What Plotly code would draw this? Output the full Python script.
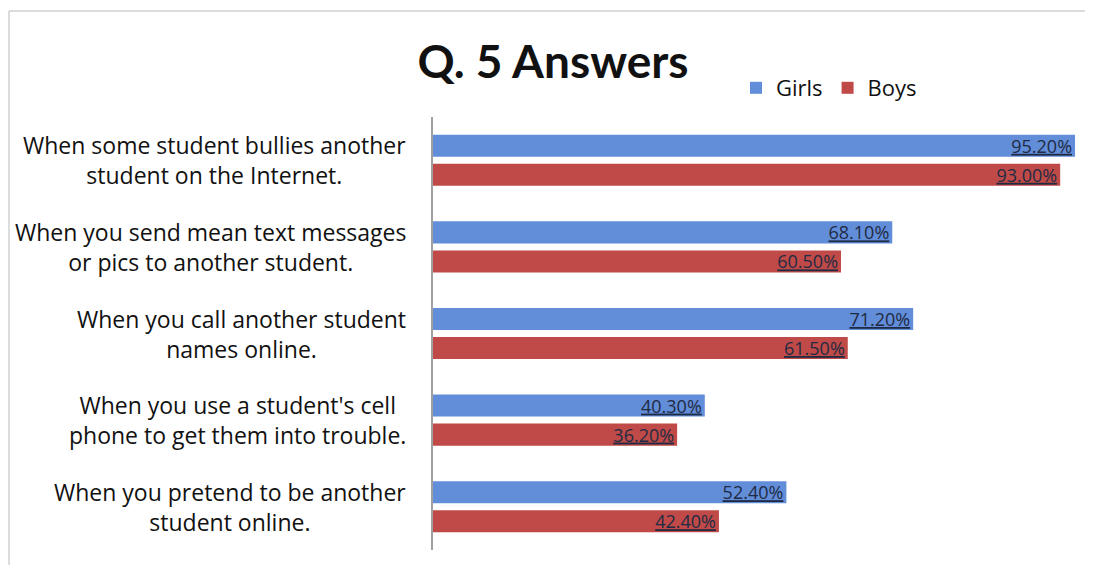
import plotly.graph_objects as go

categories = [
    "When some student bullies another<br>student on the Internet.",
    "When you send mean text messages<br>or pics to another student.",
    "When you call another student<br>names online.",
    "When you use a student's cell<br>phone to get them into trouble.",
    "When you pretend to be another<br>student online.",
]
girls = [95.2, 68.1, 71.2, 40.3, 52.4]
boys = [93.0, 60.5, 61.5, 36.2, 42.4]
series_names = ["Girls", "Boys"]
colors = ["#628ED9", "#C04A47"]

# page body has an 8px margin; work in figure coordinates
OFF = 8
W, H = 1093 - OFF, 565 - OFF
L, R, T, B = 433 - OFF, 8, 117 - OFF, 15
pw = W - L - R
ph = H - T - B

label_font = "'Open Sans', sans-serif"
title_font = "Lato, sans-serif"

fig = go.Figure()
for name, vals, col in zip(series_names, [girls, boys], colors):
    fig.add_trace(go.Bar(
        y=categories, x=vals, name=name, orientation="h",
        marker=dict(color=col, line=dict(width=0)),
        text=["<u>%.2f%%</u>" % v for v in vals],
        textposition="inside", insidetextanchor="end",
        textfont=dict(color="#1F2A44", size=18, family=label_font),
        cliponaxis=False,
    ))

for c in categories:
    fig.add_annotation(
        x=-25 / pw, xref="paper", y=c, yref="y",
        text=c, showarrow=False, xanchor="right", align="center",
        font=dict(size=23, color="#111111", family=label_font),
    )

# chart border (top and left)
fig.add_shape(type="line", xref="paper", yref="paper",
              x0=-(L - 1) / pw, x1=(W - L) / pw,
              y0=1 + (T - 3) / ph, y1=1 + (T - 3) / ph,
              line=dict(color="#D0D0D0", width=1.5))
fig.add_shape(type="line", xref="paper", yref="paper",
              x0=-(L - 1) / pw, x1=-(L - 1) / pw,
              y0=-B / ph, y1=1 + (T - 3) / ph,
              line=dict(color="#D0D0D0", width=1.5))

fig.update_layout(
    width=W, height=H,
    margin=dict(l=L, r=R, t=T, b=B),
    paper_bgcolor="white", plot_bgcolor="white",
    barmode="group", bargap=0.33, bargroupgap=0.24,
    uniformtext=dict(mode="show", minsize=18),
    title=dict(text="<b>Q. 5 Answers</b>", x=(553 - OFF) / W, xanchor="center",
               y=1 - (62 - OFF) / H, yanchor="middle",
               font=dict(size=46, color="#111111", family=title_font)),
    legend=dict(orientation="h", x=(736 - OFF - L) / pw, xanchor="left",
                y=(H - B - (88 - OFF)) / ph, yanchor="middle",
                font=dict(size=22, color="#111111", family=label_font),
                itemwidth=30, bgcolor="rgba(0,0,0,0)", traceorder="normal"),
    xaxis=dict(range=[0, pw / 6.744], showgrid=False, zeroline=False,
               showticklabels=False, showline=False, fixedrange=True),
    yaxis=dict(autorange="reversed", showticklabels=False, showgrid=False,
               showline=True, linecolor="#A0A0A0", linewidth=1.5, ticks=""),
    showlegend=True,
    font=dict(family=label_font),
)

fig.write_html("out.html")
